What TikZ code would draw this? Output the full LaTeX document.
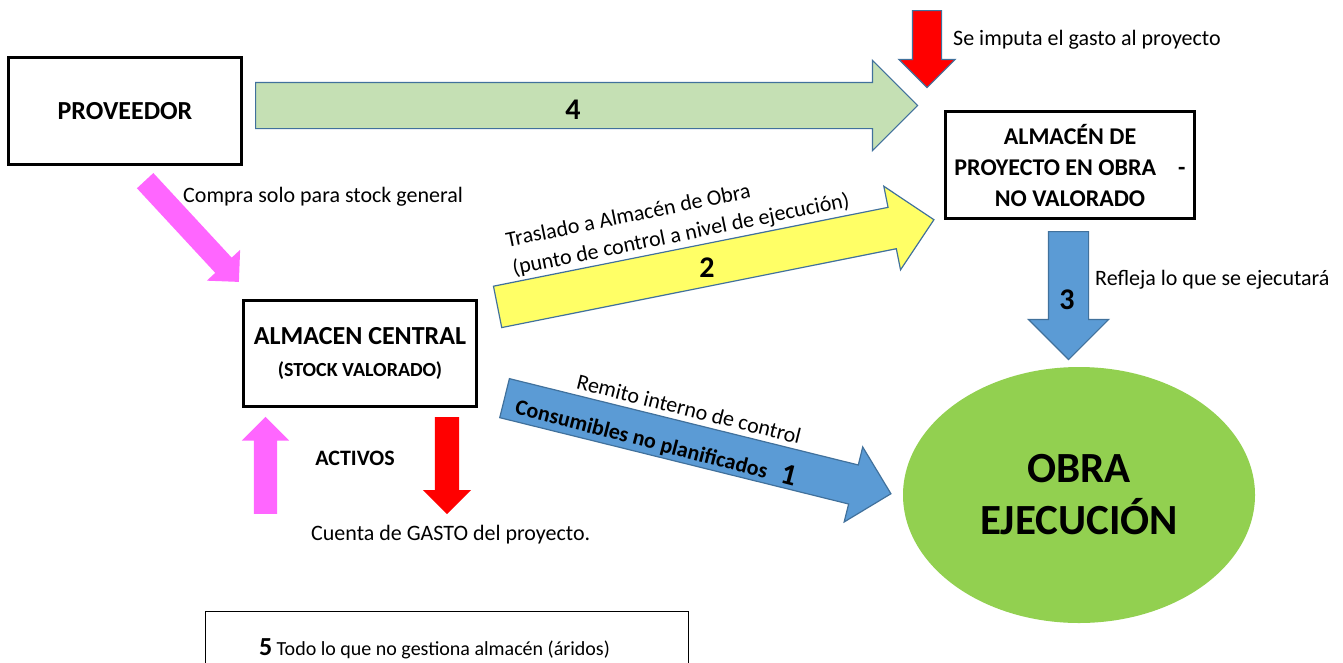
\documentclass[tikz,border=0pt]{standalone}
\usepackage{fontspec}
\setmainfont{Carlito}
\usetikzlibrary{shapes.arrows,shapes.geometric}
\definecolor{borde}{HTML}{41719C}
\definecolor{verdeclaro}{HTML}{C5E0B4}
\definecolor{amarillo}{HTML}{FFFF66}
\definecolor{azul}{HTML}{5B9BD5}
\definecolor{rosa}{HTML}{FF66FF}
\definecolor{verdeobra}{HTML}{92D050}
\tikzset{
  caja/.style={draw,line width=3pt,align=center,inner sep=0pt,
    font=\bfseries\fontsize{26}{31}\selectfont},
  bloque/.style 2 args={single arrow,anchor=tail,inner xsep=0pt,
    inner ysep=#1/2,single arrow head extend=#2,minimum width=0pt},
  conborde/.style={draw=borde,line width=1.2pt},
  texto/.style={inner sep=0pt,font=\fontsize{22}{26}\selectfont},
  numero/.style={inner sep=0pt,font=\bfseries\fontsize{30}{32}\selectfont}
}
\begin{document}
\begin{tikzpicture}[x=1pt,y=-1pt]
  \clip (0,0) rectangle (1343,662);
  % cajas
  \node[caja,minimum width=233pt,minimum height=107pt] (prov) at (125,111) {PROVEEDOR};
  \node[caja,minimum width=233pt,minimum height=106pt] (central) at (360,353.5)
    {ALMACEN CENTRAL\\[1pt]{\fontsize{20}{24}\selectfont (STOCK VALORADO)}};
  \node[caja,minimum width=249pt,minimum height=107pt,font=\bfseries\fontsize{24}{31}\selectfont]
    (proyecto) at (1070,165) {ALMACÉN DE\\PROYECTO EN OBRA\hspace{22pt}-\\NO VALORADO};
  \node[ellipse,fill=verdeobra,minimum width=352pt,minimum height=256pt,align=center,
    font=\bfseries\fontsize{43}{52}\selectfont] (obra) at (1079,495) {OBRA\\EJECUCIÓN};
  \node[draw,line width=1pt,minimum width=483pt,minimum height=80pt] (nota) at (446.5,651) {};
  \node[texto,font=\fontsize{20}{24}\selectfont] (notatexto) at (434.5,649)
    {{\bfseries\fontsize{26}{28}\selectfont 5} Todo lo que no gestiona almacén (áridos)};
  % flechas
  \node[bloque={45}{22},conborde,fill=verdeclaro,minimum height=662pt] (f4) at (255,105.5) {};
  \node[bloque={28}{13.5},conborde,fill=red,minimum height=77pt,rotate=-90] (fimputa) at (927,10) {};
  \node[bloque={39}{20},conborde,fill=azul,minimum height=128pt,rotate=-90] (f3) at (1068.5,231) {};
  \node[bloque={41}{21.5},conborde,fill=amarillo,minimum height=445pt,rotate=11.3] (f2) at (497,307) {};
  \node[bloque={39}{18.5},conborde,fill=azul,minimum height=398pt,rotate=-13.9] (f1) at (504,398) {};
  \node[bloque={22}{11.5},fill=rosa,minimum height=138pt,rotate=-47.2] (fcompra) at (145,180.5) {};
  \node[bloque={23}{12},fill=rosa,minimum height=97pt,rotate=90] (factivos) at (265.5,514) {};
  \node[bloque={24}{12},fill=red,minimum height=97pt,rotate=-90] (fgasto) at (447,417) {};
  % textos
  \node[numero] (n4) at (573,110) {4};
  \node[numero] (n3) at (1067,300) {3};
  \node[numero] (n2) at (707,268) {2};
  \node[texto,anchor=west] (imputa) at (953,40) {Se imputa el gasto al proyecto};
  \node[texto,anchor=west] (compra) at (183,197) {Compra solo para stock general};
  \node[texto,anchor=west] (refleja) at (1095,280) {Refleja lo que se ejecutará};
  \node[texto,anchor=west] (cuenta) at (311,535) {Cuenta de GASTO del proyecto.};
  \node[texto,font=\bfseries\fontsize{22}{26}\selectfont] (activos) at (355,458) {ACTIVOS};
  \node[texto,rotate=11.5] (traslado) at (628,215) {Traslado a Almacén de Obra};
  \node[texto,rotate=11.5] (punto) at (681,235) {(punto de control a nivel de ejecución)};
  \node[texto,rotate=-14] (remito) at (689,409) {Remito interno de control};
  \node[texto,rotate=-14.5] (consum) at (656,442)
    {\textbf{Consumibles no planificados}\hspace{14pt}{\bfseries\fontsize{30}{32}\selectfont 1}};
\end{tikzpicture}
\end{document}
